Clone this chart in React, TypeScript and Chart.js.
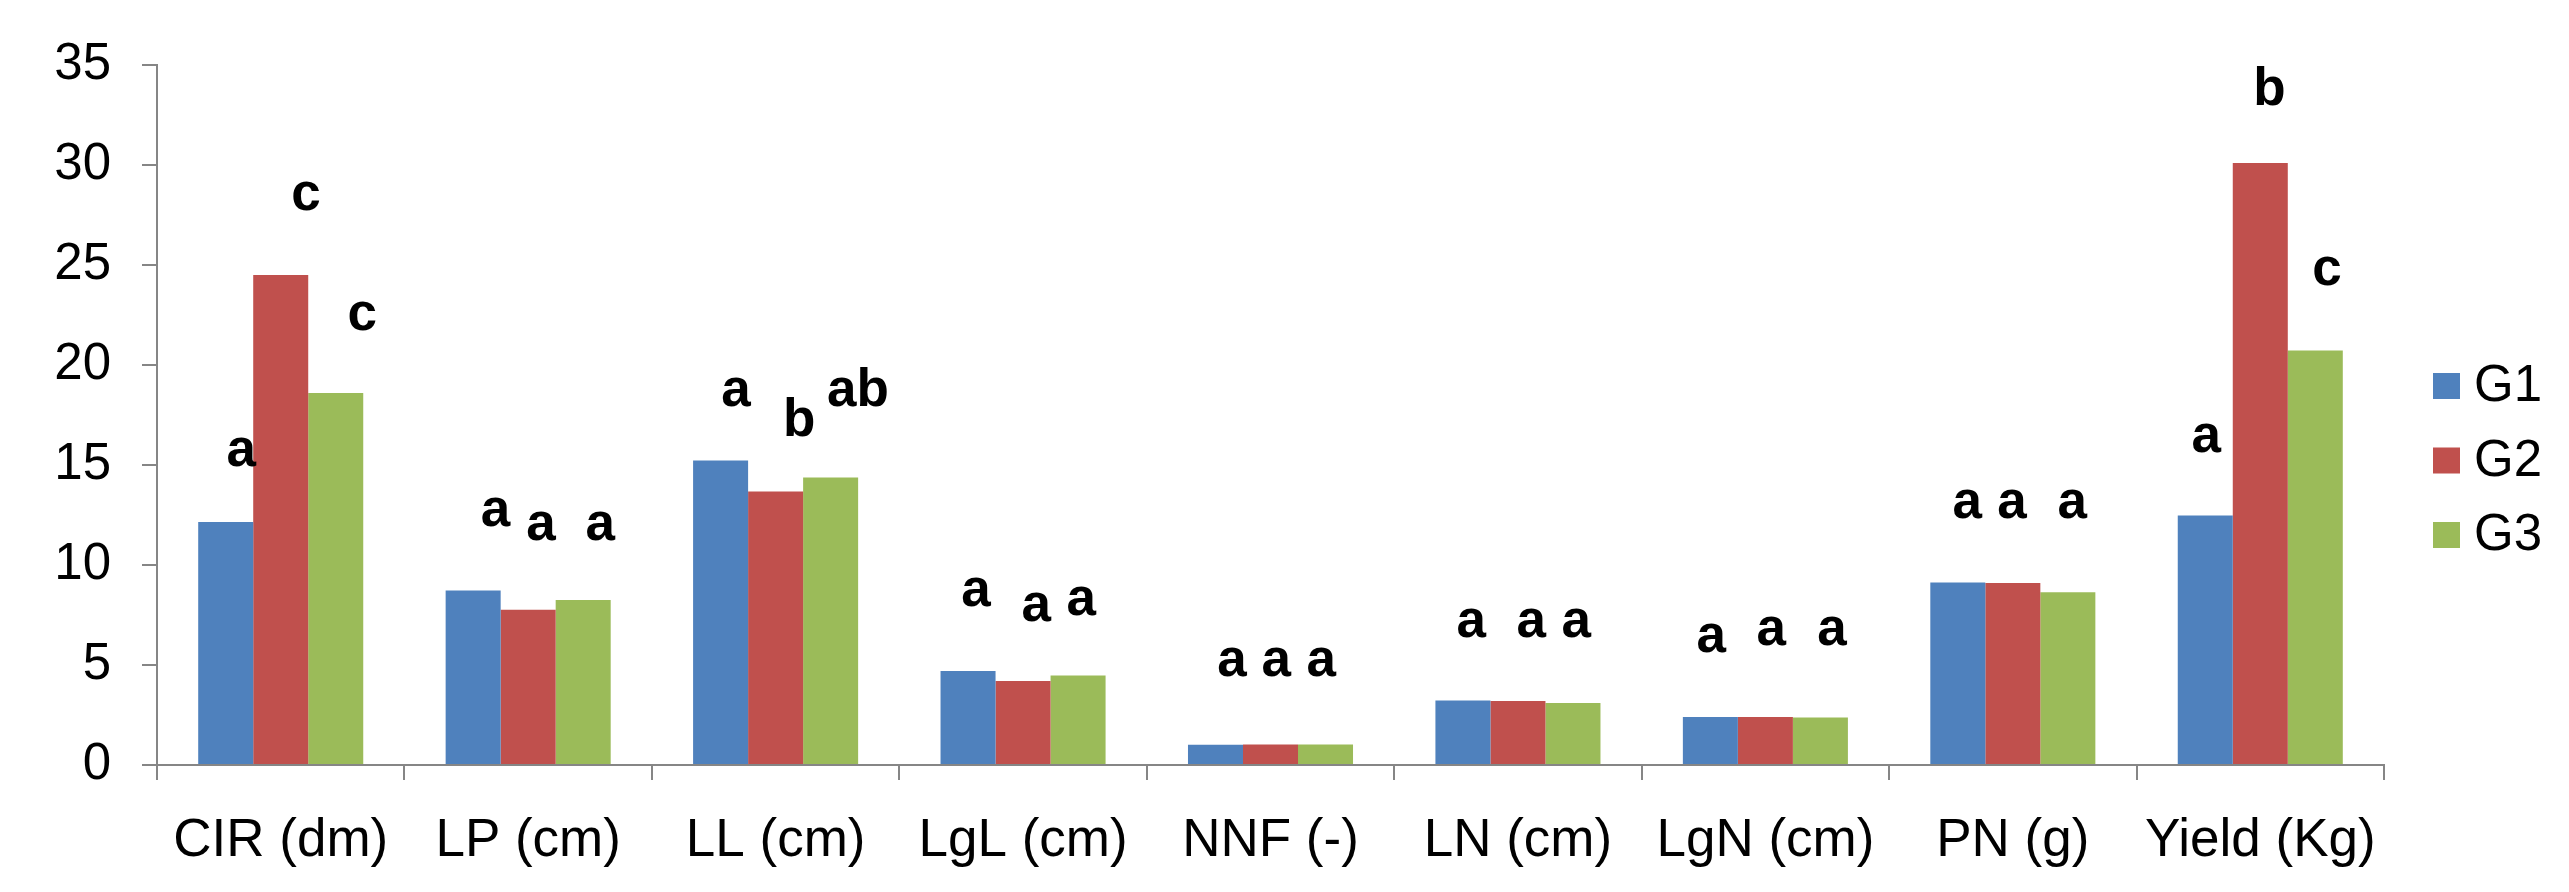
import React, { useEffect, useRef } from "react";
import { Chart, registerables } from "chart.js";

Chart.register(...registerables);

// ---- data ----
const categories = ["CIR (dm)", "LP (cm)", "LL (cm)", "LgL (cm)", "NNF (-)", "LN (cm)", "LgN (cm)", "PN (g)", "Yield (Kg)"];
const seriesNames = ["G1", "G2", "G3"];
const g1Values = [12.15, 8.73, 15.23, 4.7, 1.01, 3.23, 2.4, 9.13, 12.48];
const g2Values = [24.5, 7.76, 13.68, 4.2, 1.02, 3.2, 2.4, 9.1, 30.1];
const g3Values = [18.6, 8.25, 14.38, 4.47, 1.02, 3.1, 2.37, 8.64, 20.73];
const yMin = 0;
const yMax = 35;
const yStep = 5;

// significance letters
const g1Letters = ["a", "a", "a", "a", "a", "a", "a", "a", "a"];
const g2Letters = ["c", "a", "b", "a", "a", "a", "a", "a", "b"];
const g3Letters = ["c", "a", "ab", "a", "a", "a", "a", "a", "c"];

// letter anchors (value of baseline, offset in category units)
const g1LetterY = [14.95, 11.95, 17.96, 7.95, 4.47, 6.4, 5.67, 12.37, 15.65];
const g2LetterY = [27.75, 11.25, 16.45, 7.2, 4.47, 6.4, 6.0, 12.37, 33.0];
const g3LetterY = [21.75, 11.25, 17.96, 7.5, 4.47, 6.4, 6.0, 12.37, 24.0];
const g1LetterDx = [-0.16, -0.132, -0.16, -0.19, -0.156, -0.189, -0.219, -0.184, -0.218];
const g2LetterDx = [0.102, 0.052, 0.095, 0.053, 0.023, 0.054, 0.024, -0.003, 0.037];
const g3LetterDx = [0.329, 0.291, 0.333, 0.235, 0.205, 0.236, 0.269, 0.24, 0.27];

const colors = ["#4F81BD", "#C0504D", "#9BBB59"];
const axisColor = "#868686";
const FONT = "'Liberation Sans', Arial, sans-serif";

const letterPlugin = {
  id: "letters",
  afterDatasetsDraw(chart: any) {
    const { ctx, scales } = chart;
    const sets = [
      [g1Letters, g1LetterY, g1LetterDx],
      [g2Letters, g2LetterY, g2LetterDx],
      [g3Letters, g3LetterY, g3LetterDx],
    ];
    ctx.save();
    ctx.fillStyle = "#000";
    ctx.font = `bold 53px ${FONT}`;
    ctx.textAlign = "center";
    ctx.textBaseline = "alphabetic";
    sets.forEach(([labels, ys, dxs]: any) => {
      labels.forEach((t: string, i: number) => {
        const x = scales.x.getPixelForValue(i + dxs[i]);
        const y = scales.y.getPixelForValue(ys[i]);
        ctx.fillText(t, x, y);
      });
    });
    ctx.restore();
  },
};

const legendPlugin = {
  id: "customLegend",
  afterDraw(chart: any) {
    const { ctx } = chart;
    ctx.save();
    ctx.font = `51px ${FONT}`;
    ctx.textBaseline = "middle";
    ctx.textAlign = "left";
    chart.data.datasets.forEach((ds: any, i: number) => {
      const cy = 386 + i * 74.5;
      ctx.fillStyle = ds.backgroundColor;
      ctx.fillRect(2433, cy - 13, 27, 26);
      ctx.fillStyle = "#000";
      ctx.fillText(ds.label, 2474, cy + 1);
    });
    ctx.restore();
  },
};

export default function App() {
  const ref = useRef<HTMLCanvasElement>(null);
  useEffect(() => {
    document.body.style.margin = "0";
    const canvas = ref.current!;
    const chart = new Chart(canvas, {
      type: "bar",
      data: {
        labels: categories,
        datasets: [g1Values, g2Values, g3Values].map((vals, i) => ({
          label: seriesNames[i],
          data: vals,
          backgroundColor: colors[i],
          borderWidth: 0,
          categoryPercentage: 0.667,
          barPercentage: 1,
        })),
      },
      options: {
        responsive: false,
        devicePixelRatio: 1,
        animation: false,
        layout: { padding: { top: 65, right: 185, left: 0, bottom: 0 } },
        plugins: {
          legend: { display: false },
          tooltip: { enabled: false },
        },
        scales: {
          x: {
            grid: {
              display: true,
              drawOnChartArea: false,
              drawTicks: true,
              tickLength: 15,
              color: axisColor,
              lineWidth: 2,
              offset: true,
            },
            border: { display: true, color: axisColor, width: 2 },
            ticks: {
              font: { family: FONT, size: 53 },
              color: "#000",
              padding: 30,
              maxRotation: 0,
              autoSkip: false,
            },
            afterFit: (scale: any) => {
              scale.height = 127;
            },
          },
          y: {
            min: yMin,
            max: yMax,
            grid: {
              drawOnChartArea: false,
              drawTicks: true,
              tickLength: 15,
              color: axisColor,
              lineWidth: 2,
            },
            border: { display: true, color: axisColor, width: 2 },
            ticks: {
              stepSize: yStep,
              font: { family: FONT, size: 51 },
              color: "#000",
              padding: 31,
            },
            afterFit: (scale: any) => {
              scale.width = 157;
            },
          },
        },
      },
      plugins: [letterPlugin, legendPlugin],
    });
    return () => chart.destroy();
  }, []);
  return (
    <canvas
      ref={ref}
      width={2569}
      height={892}
      style={{ display: "block", width: 2569, height: 892 }}
    />
  );
}
